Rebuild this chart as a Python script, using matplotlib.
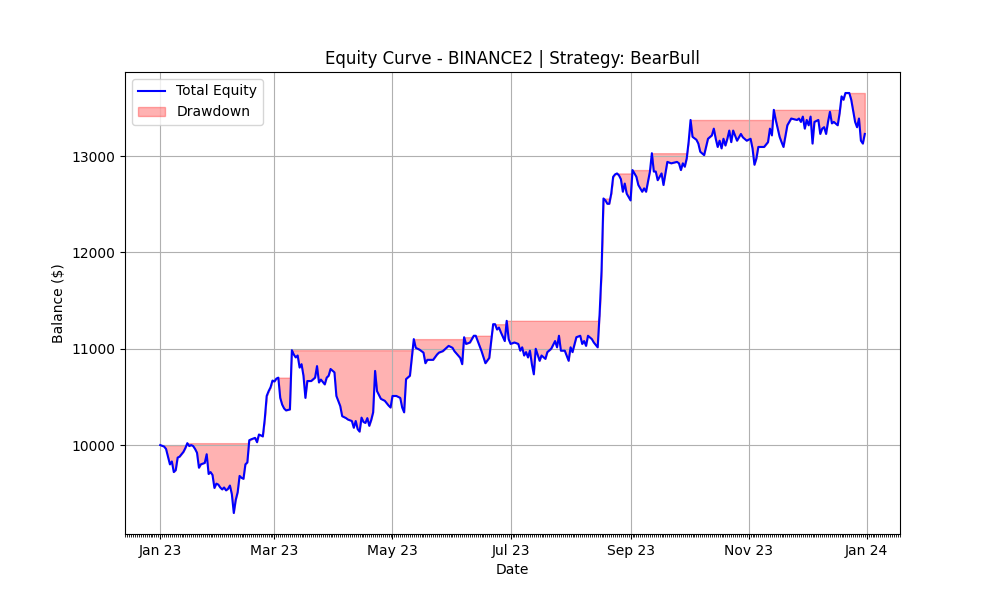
import matplotlib
matplotlib.use("Agg")
import matplotlib.pyplot as plt
import matplotlib.dates as mdates
import numpy as np
import pandas as pd

start_date = "2023-01-01"
day_offsets = [
    0, 2, 3, 4, 5, 6, 7, 8, 9, 10, 11, 12, 13, 14, 15, 16, 17, 18, 19, 20, 21, 23, 24, 25, 26, 27, 28, 29,
    30, 31, 32, 33, 34, 35, 36, 37, 38, 39, 40, 41, 42, 43, 44, 45, 46, 47, 49, 50, 51, 52, 53, 54, 55, 56,
    57, 58, 59, 60, 61, 62, 63, 64, 65, 67, 68, 69, 70, 71, 72, 73, 74, 75, 76, 78, 80, 81, 82, 83, 85, 86,
    87, 88, 90, 91, 93, 94, 96, 97, 99, 100, 101, 102, 103, 104, 105, 106, 107, 108, 109, 110, 111, 112,
    114, 116, 118, 119, 120, 122, 124, 125, 126, 127, 129, 130, 131, 132, 134, 136, 137, 138, 141, 143,
    144, 146, 149, 151, 152, 155, 156, 157, 158, 160, 162, 163, 166, 168, 170, 171, 172, 173, 174, 175,
    176, 178, 179, 180, 181, 183, 185, 186, 187, 188, 189, 190, 191, 192, 193, 194, 196, 197, 199, 200,
    202, 204, 205, 206, 207, 209, 211, 212, 213, 215, 217, 218, 219, 220, 221, 223, 224, 226, 227, 228,
    229, 230, 231, 232, 233, 234, 235, 236, 237, 238, 239, 240, 241, 243, 244, 246, 247, 248, 249, 250,
    251, 253, 254, 255, 256, 257, 259, 260, 261, 262, 264, 267, 268, 269, 270, 271, 272, 273, 274, 275,
    277, 278, 279, 281, 283, 285, 286, 287, 288, 289, 290, 291, 292, 293, 294, 295, 296, 298, 300, 301,
    303, 305, 306, 307, 308, 309, 311, 312, 314, 315, 316, 317, 318, 320, 321, 322, 324, 326, 329, 330,
    331, 332, 333, 334, 335, 336, 337, 338, 340, 341, 342, 343, 344, 345, 346, 347, 348, 350, 351, 352,
    353, 354, 356, 357, 359, 360, 361, 362, 363, 364,
]
total_equity = [
    10000, 9985, 9960, 9880, 9800, 9830, 9720, 9740, 9870, 9880, 9905, 9930, 9970, 10020, 9990, 10000, 9990, 9960, 9920, 9765, 9800, 9815, 9905, 9700, 9720, 9690, 9555, 9600,
    9590, 9560, 9540, 9560, 9530, 9545, 9580, 9490, 9295, 9430, 9510, 9680, 9660, 9650, 9800, 9820, 10050, 10060, 10075, 10030, 10110, 10100, 10090, 10270, 10510, 10560,
    10600, 10670, 10660, 10690, 10700, 10490, 10420, 10380, 10360, 10370, 10985, 10940, 10910, 10930, 10805, 10840, 10720, 10490, 10665, 10665, 10700, 10820, 10650, 10680, 10630, 10700,
    10720, 10790, 10755, 10510, 10405, 10300, 10280, 10265, 10250, 10180, 10250, 10165, 10140, 10285, 10240, 10230, 10280, 10200, 10260, 10340, 10770, 10560,
    10480, 10460, 10410, 10390, 10510, 10510, 10490, 10390, 10340, 10685, 10720, 10910, 11100, 11010, 10990, 10960, 10850, 10885, 10885, 10940,
    10960, 10975, 11030, 11010, 10975, 10905, 10840, 11120, 11050, 11065, 11135, 11135, 10975, 10850, 10905, 11085, 11255, 11255, 11200, 11220,
    11170, 11080, 11290, 11100, 11050, 11065, 11050, 10980, 11015, 10930, 10965, 10910, 10980, 10840, 10735, 11000, 10875, 10930, 10895, 10965,
    11000, 11080, 11015, 11135, 10980, 10980, 10875, 11015, 10965, 11120, 11135, 11050, 11080, 11030, 11135, 11100, 11065, 11015, 11360, 11810,
    12560, 12540, 12505, 12505, 12610, 12785, 12810, 12820, 12800, 12760, 12630, 12715, 12610, 12540, 12855, 12785, 12700, 12665, 12630, 12665,
    12630, 12840, 13030, 12840, 12840, 12750, 12820, 12700, 12820, 12940, 12925, 12940, 12925, 12855, 12925, 12890, 12975, 13150, 13375, 13200,
    13170, 13130, 13045, 13010, 13180, 13215, 13285, 13180, 13095, 13160, 13080, 13180, 13110, 13180, 13265, 13145, 13265, 13160, 13230, 13195,
    13160, 13180, 13080, 12910, 12975, 13095, 13095, 13095, 13145, 13285, 13215, 13480, 13375, 13200, 13145, 13095, 13320, 13390, 13375, 13390,
    13355, 13410, 13285, 13375, 13320, 13410, 13130, 13355, 13375, 13230, 13285, 13300, 13230, 13355, 13460, 13340, 13355, 13320, 13445, 13620,
    13585, 13655, 13655, 13585, 13355, 13300, 13390, 13160, 13130, 13230,
]

dates = pd.Timestamp(start_date) + pd.to_timedelta(day_offsets, unit="D")
equity = np.array(total_equity, dtype=float)
running_max = np.maximum.accumulate(equity)

fig, ax = plt.subplots(figsize=(10, 6), dpi=100)
ax.plot(dates, equity, color="blue", linewidth=1.5, label="Total Equity")
ax.fill_between(dates, equity, running_max, color="red", alpha=0.3, label="Drawdown")

ax.set_title("Equity Curve - BINANCE2 | Strategy: BearBull")
ax.set_xlabel("Date")
ax.set_ylabel("Balance ($)")
ax.xaxis.set_major_locator(mdates.MonthLocator(interval=2))
ax.xaxis.set_major_formatter(mdates.DateFormatter("%b %y"))
ax.xaxis.set_minor_locator(mdates.DayLocator())
ax.grid(True)
ax.legend(loc="upper left")

fig.savefig("out.png", dpi=100)
